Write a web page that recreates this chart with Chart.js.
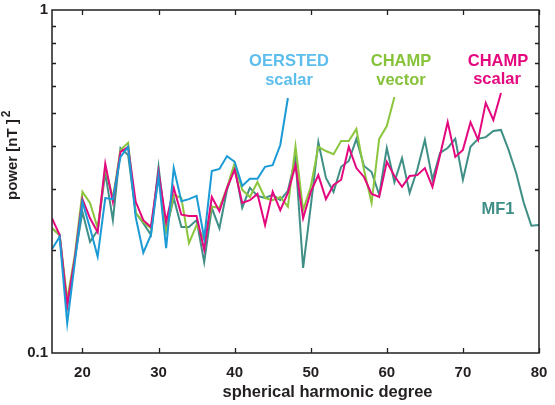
<!DOCTYPE html>
<html>
<head>
<meta charset="utf-8">
<script src="https://cdn.jsdelivr.net/npm/chart.js@4"></script>
<style>
html,body{margin:0;padding:0;background:#fff;}
#wrap{width:555px;height:405px;position:relative;}
</style>
</head>
<body>
<div id="wrap"><canvas id="c" width="555" height="405"></canvas></div>
<script>
const degrees = [16,17,18,19,20,21,22,23,24,25,26,27,28,29,30,31,32,33,34,35,36,37,38,39,40,41,42,43,44,45,46,47,48,49,50,51,52,53,54,55,56,57,58,59,60,61,62,63,64,65,66,67,68,69,70,71,72,73,74,75,76,77,78,79,80];

const oerstedScalar = [0.201,0.218,0.122,0.184,0.276,0.231,0.191,0.283,0.281,0.373,0.399,0.249,0.196,0.221,0.328,0.202,0.346,0.277,0.281,0.287,0.216,0.339,0.344,0.375,0.361,0.307,0.322,0.322,0.349,0.353,0.404,0.554];

const champVector = [0.231,0.221,0.143,0.193,0.295,0.274,0.231,0.346,0.283,0.391,0.410,0.256,0.241,0.231,0.326,0.228,0.289,0.283,0.209,0.236,0.214,0.267,0.265,0.303,0.358,0.299,0.285,0.315,0.283,0.279,0.285,0.267,0.401,0.261,0.305,0.399,0.388,0.380,0.415,0.415,0.450,0.342,0.274,0.421,0.459,0.558];

const champScalar = [0.247,0.221,0.138,0.189,0.281,0.247,0.225,0.356,0.276,0.386,0.399,0.276,0.244,0.233,0.337,0.241,0.303,0.253,0.251,0.251,0.200,0.285,0.259,0.303,0.342,0.274,0.279,0.291,0.236,0.295,0.261,0.293,0.353,0.247,0.295,0.330,0.281,0.309,0.320,0.399,0.346,0.326,0.291,0.285,0.361,0.328,0.305,0.328,0.330,0.346,0.305,0.378,0.471,0.373,0.391,0.471,0.418,0.536,0.478,0.573];

const mf1 = [0.231,0.221,0.137,0.189,0.258,0.211,0.228,0.335,0.244,0.396,0.378,0.256,0.239,0.221,0.349,0.228,0.283,0.233,0.233,0.244,0.184,0.265,0.231,0.299,0.351,0.265,0.303,0.287,0.283,0.289,0.279,0.297,0.370,0.177,0.267,0.412,0.324,0.295,0.349,0.363,0.421,0.351,0.337,0.289,0.396,0.315,0.370,0.293,0.342,0.418,0.320,0.383,0.396,0.421,0.320,0.399,0.421,0.426,0.444,0.447,0.391,0.335,0.274,0.235,0.236];

const xTickValues = [20,30,40,50,60,70,80];
const xTickLabels = ['20','30','40','50','60','70','80'];
const yMajorValues = [0.1,1];
const yTickLabels = ['0.1','1'];
const yMinorValues = [0.2,0.3,0.4,0.5,0.6,0.7,0.8,0.9];

const xTitle = 'spherical harmonic degree';
const yTitle = 'power [nT ]';
const yTitleSup = '2';

const seriesNames = [['OERSTED','scalar'],['CHAMP','scalar'],['CHAMP','vector'],['MF1']];

function pts(arr){ return arr.map((v,i)=>({x:degrees[i], y:v})); }

const AXIS = '#231f20';
const FONT = '"Liberation Sans", Arial, sans-serif';

const decor = {
  id:'decor',
  afterDraw(chart){
    const ctx = chart.ctx, a = chart.chartArea;
    const xs = chart.scales.x, ys = chart.scales.y;
    ctx.save();
    ctx.strokeStyle = AXIS;
    ctx.lineWidth = 1.5;
    ctx.strokeRect(a.left, a.top, a.right-a.left, a.bottom-a.top);
    ctx.lineWidth = 1.3;
    ctx.beginPath();
    xTickValues.forEach(v=>{
      const px = Math.round(xs.getPixelForValue(v))+0.5;
      ctx.moveTo(px, a.bottom); ctx.lineTo(px, a.bottom-5);
      ctx.moveTo(px, a.top); ctx.lineTo(px, a.top+5);
    });
    yMinorValues.forEach(v=>{
      const py = Math.round(ys.getPixelForValue(v))+0.5;
      ctx.moveTo(a.left, py); ctx.lineTo(a.left+4, py);
      ctx.moveTo(a.right, py); ctx.lineTo(a.right-4, py);
    });
    ctx.stroke();

    ctx.fillStyle = AXIS;
    ctx.font = 'bold 15px ' + FONT;
    ctx.textAlign = 'center';
    ctx.textBaseline = 'middle';
    xTickValues.forEach((v,i)=>{
      ctx.fillText(xTickLabels[i], xs.getPixelForValue(v), 373);
    });
    ctx.textAlign = 'right';
    yMajorValues.forEach((v,i)=>{
      ctx.fillText(yTickLabels[i], a.left-4, ys.getPixelForValue(v));
    });

    ctx.font = 'bold 16.5px ' + FONT;
    ctx.textAlign = 'center';
    ctx.fillText(xTitle, (a.left+a.right)/2 + 32, 392);

    // y title
    ctx.save();
    ctx.translate(13, 200);
    ctx.rotate(-Math.PI/2);
    ctx.textAlign = 'left';
    ctx.font = 'bold 15px ' + FONT;
    ctx.fillText(yTitle, 0, 0);
    const w = ctx.measureText(yTitle).width;
    ctx.font = 'bold 12px ' + FONT;
    ctx.fillText(yTitleSup, w + 2, -6);
    ctx.restore();

    // series labels
    ctx.font = 'bold 16.5px ' + FONT;
    ctx.textAlign = 'center';
    ctx.fillStyle = '#5dbdec';
    ctx.fillText(seriesNames[0][0], 289, 61);
    ctx.fillText(seriesNames[0][1], 289, 80);
    ctx.fillStyle = '#86c23a';
    ctx.fillText(seriesNames[2][0], 401, 61);
    ctx.fillText(seriesNames[2][1], 401, 80);
    ctx.fillStyle = '#e4087f';
    ctx.fillText(seriesNames[1][0], 498, 61);
    ctx.fillText(seriesNames[1][1], 497, 79);
    ctx.fillStyle = '#3f8f86';
    ctx.fillText(seriesNames[3][0], 498, 209);
    ctx.restore();
  }
};

const common = {borderWidth:2, pointRadius:0, tension:0, fill:false};

new Chart(document.getElementById('c'), {
  type:'line',
  data:{
    datasets:[
      Object.assign({label:'OERSTED scalar', data:pts(oerstedScalar), borderColor:'#1b9ad6'}, common),
      Object.assign({label:'CHAMP scalar', data:pts(champScalar), borderColor:'#e4087f'}, common),
      Object.assign({label:'CHAMP vector', data:pts(champVector), borderColor:'#8cc63e'}, common),
      Object.assign({label:'MF1', data:pts(mf1), borderColor:'#3f8f86'}, common)
    ]
  },
  options:{
    responsive:false,
    animation:false,
    layout:{padding:{left:52, right:16, top:10, bottom:52}},
    plugins:{legend:{display:false}, tooltip:{enabled:false}},
    scales:{
      x:{type:'linear', min:16, max:80, display:false},
      y:{type:'logarithmic', min:0.1, max:1, display:false}
    }
  },
  plugins:[decor]
});
</script>
</body>
</html>
